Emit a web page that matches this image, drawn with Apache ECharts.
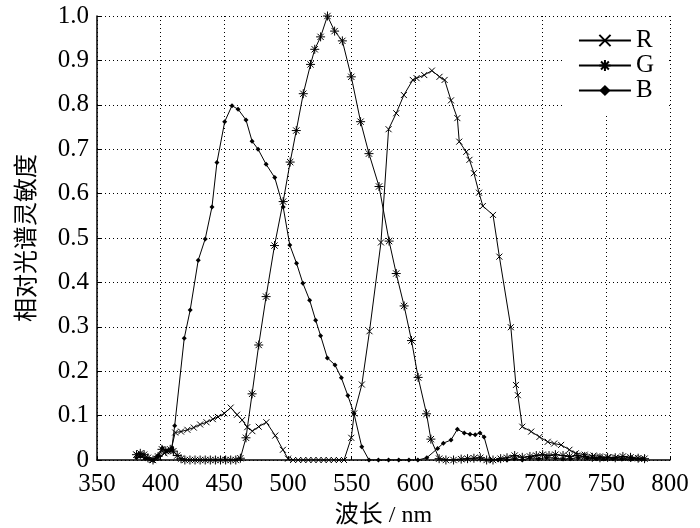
<!DOCTYPE html>
<html>
<head>
<meta charset="utf-8">
<script src="https://cdn.jsdelivr.net/npm/echarts@6/dist/echarts.min.js"></script>
<style>html,body{margin:0;padding:0;background:#fff}#c{width:700px;height:528px}</style>
</head>
<body>
<div id="c"></div>
<script>
const seriesNames = ['R', 'G', 'B'];
const xTicks = [350, 400, 450, 500, 550, 600, 650, 700, 750, 800];
const yTicks = [0, 0.1, 0.2, 0.3, 0.4, 0.5, 0.6, 0.7, 0.8, 0.9, 1.0];

const dataR = [
  [381,0.012],[384,0.010],[388,0.005],[393,0],[398,0.005],[403,0.015],[408,0.020],
  [411.4,0.062],[416,0.064],[421,0.068],[426,0.073],[431,0.080],[436,0.085],[441,0.092],
  [445,0.097],[450,0.105],[455,0.118],[460,0.102],[464,0.090],[468,0.074],[472,0.065],
  [477,0.075],[483,0.085],[490,0.055],[496,0.023],[500,0.003],
  [504,0],[508,0],[512,0],[516,0],[520,0],[524,0],[528,0],[532,0],[536,0],[540,0],[544,0],
  [549.7,0.050],[552,0.105],[558,0.170],[564,0.290],[573,0.490],[579,0.745],[585,0.781],
  [591,0.822],[598,0.856],[601,0.860],[607,0.867],[613,0.877],[619,0.863],[623,0.856],
  [628,0.810],[633,0.770],[634.5,0.717],[640,0.694],[642.5,0.676],[646,0.646],[650,0.602],
  [653,0.572],[661,0.552],[666,0.458],[675,0.299],[679,0.169],[680.5,0.146],[684,0.075],
  [691,0.064],[697.5,0.052],[704,0.041],[709,0.037],[714.5,0.034],[721,0.023],[726,0.015],
  [733,0.012],[740,0.010],[745,0.008],[752,0.006],[758,0.005],[765,0.004],[772,0.004],[778,0.003]
];

const dataG = [
  [381,0.012],[384,0.015],[387,0.012],[390,0.005],[394,0],[398,0.008],[401,0.024],[404,0.020],
  [407.5,0.024],[410,0.020],[413,0.010],[416,0.003],[419,0],[423,0],[427,0],[431,0],[435,0],
  [439,0],[443,0],[447,0],[451,0],[455,0],[459,0],[462.6,0.004],[467,0.050],[471.8,0.149],
  [477,0.259],[482.8,0.368],[489.4,0.483],[496.2,0.582],[501.7,0.671],[506.5,0.742],[512,0.825],
  [517.7,0.891],[521,0.925],[525.6,0.953],[531,1.0],[536.6,0.966],[542.7,0.944],[549.7,0.863],
  [557,0.762],[563.6,0.690],[571.5,0.616],[579.4,0.493],[585,0.420],[591.2,0.347],[597,0.269],
  [602.2,0.186],[608.8,0.104],[612.2,0.047],[618.7,0.003],[624,0],[630,0],[636,0.002],[641,0.003],
  [646,0.004],[651,0.005],[656,0],[661,0],[667,0.003],[672,0.005],[678,0.010],[684,0.006],
  [690,0.008],[695,0.010],[700,0.012],[705,0.010],[710,0.012],[716,0.010],[721,0.008],[727,0.010],
  [733,0.008],[739,0.006],[745,0.005],[751,0.006],[757,0.005],[763,0.008],[769,0.006],[775,0.004],[780,0.003]
];

const dataB = [
  [381,0.005],[384,0.008],[388,0.003],[394,0],[398,0.010],[401.4,0.027],[405,0.020],[408.8,0.027],
  [411,0.077],[418.5,0.274],[423.2,0.338],[429.5,0.450],[435,0.498],[440.3,0.570],[444.2,0.670],
  [450.3,0.762],[456,0.798],[460.8,0.790],[467,0.766],[471.8,0.718],[476.5,0.700],[482.8,0.666],
  [489.6,0.636],[496.2,0.570],[501.4,0.484],[506.7,0.443],[511.7,0.398],[517,0.360],[521.7,0.315],
  [525.6,0.280],[530.9,0.230],[536.9,0.214],[541.9,0.185],[547,0.145],[551.8,0.105],[557.9,0.030],
  [563.6,0],[571,0],[579,0],[587,0],[595,0],[602,0],[609,0.005],[617.5,0.026],[622,0.038],
  [628,0.045],[633,0.069],[638.4,0.061],[643,0.058],[647,0.057],[650.8,0.061],[654,0.052],
  [659,0],[665,0],[672,0],[678,0.003],[684,0],[690,0.005],[697,0.003],[703,0.005],[710,0.004],
  [716,0.002],[722,0.003],[728,0.005],[735,0.004],[742,0.003],[748,0.002],[755,0.003],[762,0.002],
  [770,0.002],[778,0.002]
];

const FONT = '"Liberation Serif", "Noto Sans CJK SC", serif';
const symX = 'path://M0,0L10,10M10,0L0,10';
const symStar = 'path://M5,0L5,10M0,5L10,5M1.5,1.5L8.5,8.5M8.5,1.5L1.5,8.5';

function mkSeries(name, data, symbol, size, filled) {
  return {
    name: name,
    type: 'line',
    data: data,
    symbol: symbol,
    symbolSize: size,
    showAllSymbol: true,
    lineStyle: { color: '#000', width: 1 },
    itemStyle: filled
      ? { color: '#000', borderColor: '#000', borderWidth: 0 }
      : { color: 'rgba(0,0,0,0)', borderColor: '#000', borderWidth: 1 },
    emphasis: { disabled: true },
    animation: false
  };
}

const chart = echarts.init(document.getElementById('c'));
chart.setOption({
  backgroundColor: '#fff',
  animation: false,
  grid: { left: 97, right: 30, top: 16, bottom: 68, containLabel: false, outerBoundsMode: 'none' },
  legend: {
    orient: 'vertical',
    right: 32,
    top: 18,
    backgroundColor: '#fff',
    padding: [10, 14, 10, 15],
    itemWidth: 52,
    itemHeight: 14,
    itemGap: 0,
    textStyle: { fontFamily: FONT, fontSize: 25, lineHeight: 24, color: '#000' },
    data: seriesNames
  },
  xAxis: {
    type: 'value',
    min: 350,
    max: 800,
    interval: 50,
    name: '波长 / nm',
    nameLocation: 'middle',
    nameGap: 44,
    nameTextStyle: { fontFamily: FONT, fontSize: 24, color: '#000' },
    axisLine: { onZero: false, lineStyle: { color: '#000', width: 1.5 } },
    axisTick: { inside: true, length: 4, lineStyle: { color: '#000' } },
    axisLabel: { fontFamily: FONT, fontSize: 25, color: '#000', margin: 12,
      formatter: v => xTicks.includes(v) ? String(v) : '' },
    splitLine: { show: true, lineStyle: { color: '#000', width: 1, type: [1, 3] } }
  },
  yAxis: {
    type: 'value',
    min: 0,
    max: 1,
    interval: 0.1,
    name: '相对光谱灵敏度',
    nameLocation: 'middle',
    nameGap: 57,
    nameRotate: 90,
    nameTextStyle: { fontFamily: FONT, fontSize: 24, color: '#000' },
    axisLine: { show: true, lineStyle: { color: '#000', width: 1.5 } },
    axisTick: { show: true, inside: true, length: 4, lineStyle: { color: '#000' } },
    axisLabel: { fontFamily: FONT, fontSize: 25, color: '#000', margin: 8,
      formatter: v => {
        const t = yTicks.find(k => Math.abs(k - v) < 1e-6);
        if (t === undefined) return '';
        return t === 0 ? '0' : t.toFixed(1);
      } },
    splitLine: { show: true, lineStyle: { color: '#000', width: 1, type: [1, 3] } }
  },
  series: [
    mkSeries('R', dataR, symX, 6, false),
    mkSeries('G', dataG, symStar, 9, false),
    mkSeries('B', dataB, 'diamond', 5, true)
  ]
});
</script>
</body>
</html>
